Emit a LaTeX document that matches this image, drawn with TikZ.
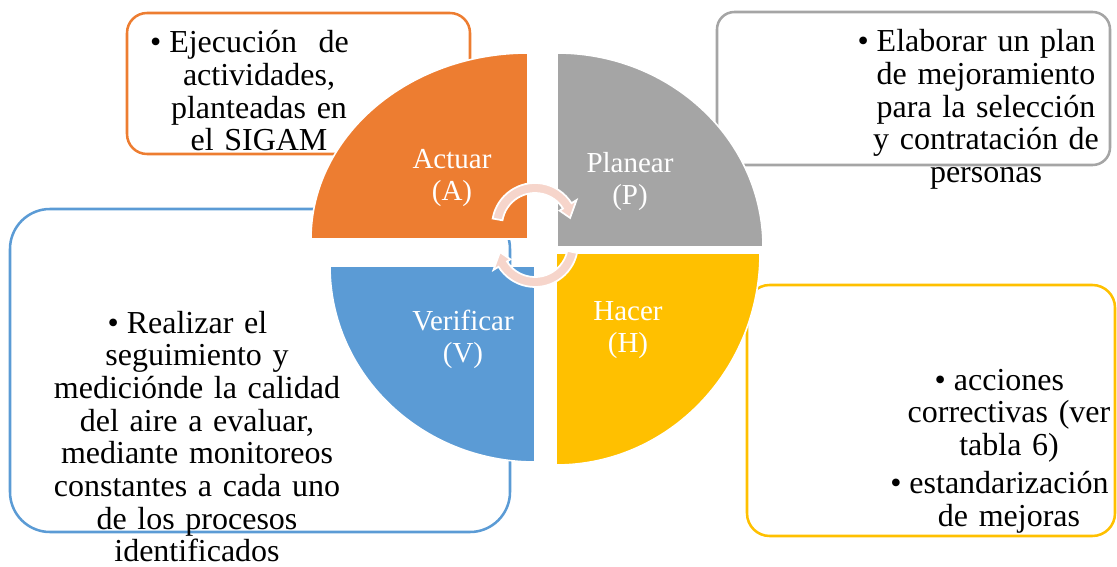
\documentclass[tikz,border=0pt]{standalone}
\usepackage{fontspec}
\setmainfont{Liberation Serif}
\usepackage{tikz}

\definecolor{actuarOrange}{RGB}{237,125,49}
\definecolor{planearGrey}{RGB}{165,165,165}
\definecolor{hacerYellow}{RGB}{255,192,0}
\definecolor{verificarBlue}{RGB}{91,155,213}
\definecolor{cyclePink}{RGB}{246,213,203}

\newcommand{\bul}{\leavevmode\llap{\textbullet\hspace{6pt}}}

\begin{document}
\begin{tikzpicture}[x=0.75pt,y=0.75pt,yscale=-1,xscale=1,
  infobox/.style={line width=1.9pt, rounded corners=#1},
  quad/.style={draw=white, line width=1.2pt},
  cyc/.style={fill=cyclePink, draw=white, line width=1.3pt},
  boxtxt/.style={inner sep=0pt, text width=260pt, align=center, anchor=base, font=\fontsize{24}{24.5}\selectfont},
  lbl/.style={inner sep=0pt, text width=120pt, align=center, anchor=base, text=white, font=\fontsize{21.75}{24}\selectfont}]
\useasboundingbox (0,0) rectangle (1117,567);

%Shape: Rounded Rect [id:actuar box]
\draw [infobox=15pt, draw=actuarOrange] (127,13) rectangle (470,154) ;
%Shape: Rounded Rect [id:planear box]
\draw [infobox=13pt, draw=planearGrey] (717,12) rectangle (1110,165) ;
%Shape: Rounded Rect [id:verificar box]
\draw [infobox=30pt, draw=verificarBlue] (10,209) rectangle (510,532) ;
%Shape: Rounded Rect [id:hacer box]
\draw [infobox=17pt, draw=hacerYellow] (747,285) rectangle (1115,536) ;

% Text Node
\draw (259,53) node [boxtxt] (txtActuar) {\bul Ejecución\ \ de\\actividades,\\planteadas en\\el SIGAM};
% Text Node
\draw (986,52) node [boxtxt] (txtPlanear) {\bul Elaborar un plan\\de mejoramiento\\para la selección\\y contratación de\\personas};
% Text Node
\draw (197,333) node [boxtxt] (txtVerificar) {\bul Realizar el\\seguimiento y\\mediciónde la calidad\\del aire a evaluar,\\mediante monitoreos\\constantes a cada uno\\de los procesos\\identificados};
% Text Node
\draw (1009,390) node [boxtxt] (txtHacer) {\bul acciones\\correctivas (ver\\tabla 6)\\[4pt]\bul estandarización\\de mejoras};

%Shape: Quarter [id:actuar]
\path [quad, fill=actuarOrange] (528,239) -- (311,239) arc[start angle=180, end angle=270, x radius=217, y radius=186] -- cycle ;
%Shape: Quarter [id:planear]
\path [quad, fill=planearGrey] (557,247) -- (557,53) arc[start angle=-90, end angle=0, x radius=206, y radius=194] -- cycle ;
%Shape: Quarter [id:hacer]
\path [quad, fill=hacerYellow] (556,253) -- (760,253) arc[start angle=0, end angle=90, x radius=204, y radius=212] -- cycle ;
%Shape: Quarter [id:verificar]
\path [quad, fill=verificarBlue] (535,266) -- (535,462) arc[start angle=90, end angle=180, x radius=205, y radius=196] -- cycle ;

%Shape: Circular Arrow [id:upper]
\begin{scope}[shift={(535,226)}]
\path [cyc] (-170:43) arc[start angle=-170, end angle=-32, radius=43] -- (-32:49) -- (-13:36) -- (-32:29) -- (-32:33) arc[start angle=-32, end angle=-170, radius=33] -- cycle ;
\end{scope}
%Shape: Circular Arrow [id:lower]
\begin{scope}[shift={(535,244)}]
\path [cyc] (12:43) arc[start angle=12, end angle=148, radius=43] -- (148:49) -- (167:36) -- (148:29) -- (148:33) arc[start angle=148, end angle=12, radius=33] -- cycle ;
\end{scope}

% Text Node
\draw (452,168) node [lbl] (lblActuar) {Actuar\\(A)};
% Text Node
\draw (630,172) node [lbl] (lblPlanear) {Planear\\(P)};
% Text Node
\draw (463,330) node [lbl] (lblVerificar) {Verificar\\(V)};
% Text Node
\draw (628,320) node [lbl] (lblHacer) {Hacer\\(H)};

\end{tikzpicture}
\end{document}
